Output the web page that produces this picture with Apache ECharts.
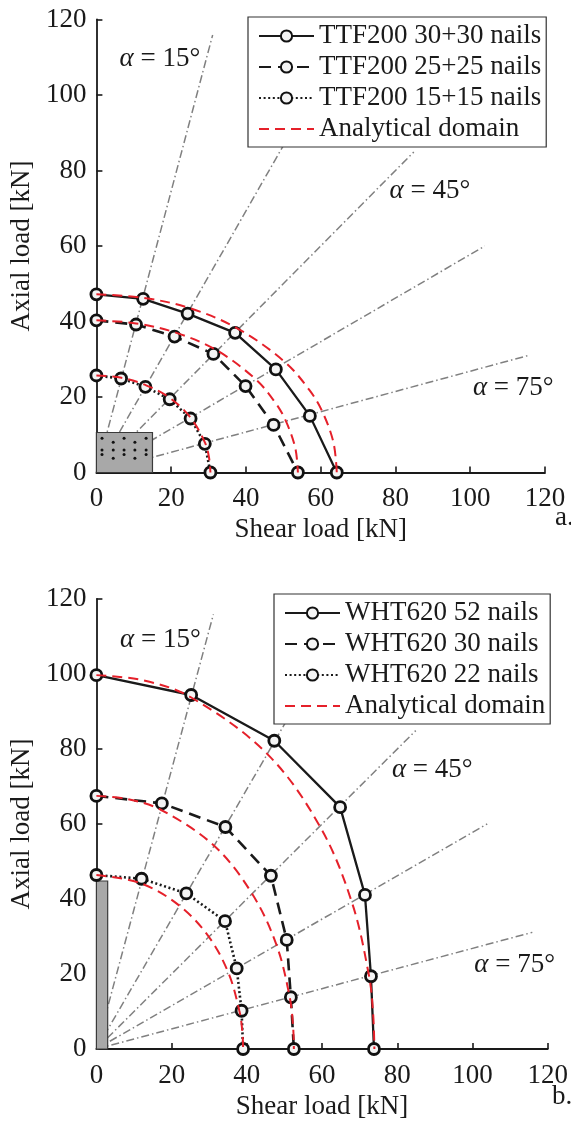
<!DOCTYPE html>
<html>
<head>
<meta charset="utf-8">
<script src="https://cdn.jsdelivr.net/npm/echarts@6/dist/echarts.min.js"></script>
<style>
  html, body { margin: 0; padding: 0; background: #fff; }
  #chart { width: 571px; height: 1121px; }
</style>
</head>
<body>
<div id="chart"></div>
<script>
// ---- panel a: TTF200 (shear load, axial load) in kN
const ttf30 = [[0, 47.2], [12.5, 46.0], [24.4, 42.1], [37.1, 37.0], [48.0, 27.3], [57.1, 15.0], [64.3, 0]];
const ttf25 = [[0, 40.3], [10.6, 39.2], [20.9, 36.0], [31.3, 31.4], [39.9, 22.9], [47.4, 12.6], [53.9, 0]];
const ttf15 = [[0, 25.7], [6.6, 24.9], [13.1, 22.7], [19.6, 19.4], [25.2, 14.3], [29.0, 7.6], [30.5, 0]];
const domainA30 = [[0, 47.2], [12.4, 46.3], [25.1, 43.5], [38.0, 38.0], [50.5, 29.2], [57.0, 21.8], [60.4, 16.2], [63.4, 8.0], [64.3, 0]];
const domainA25 = [[0, 40.3], [10.6, 39.5], [21.4, 37.0], [32.3, 32.3], [42.7, 24.6], [48.0, 18.3], [50.7, 13.6], [53.2, 6.5], [53.9, 0]];
const domainA15 = [[0, 25.7], [6.7, 25.1], [13.3, 23.1], [19.7, 19.7], [25.2, 14.5], [29.1, 7.8], [30.1, 4.1], [30.5, 0]];

// ---- panel b: WHT620
const wht52 = [[0, 99.7], [25.2, 94.4], [47.3, 82.2], [64.8, 64.5], [71.4, 41.1], [73.0, 19.4], [73.8, 0]];
const wht30 = [[0, 67.5], [17.4, 65.5], [34.3, 59.2], [46.4, 46.2], [50.6, 29.1], [51.7, 13.8], [52.5, 0]];
const wht22 = [[0, 46.4], [12.0, 45.4], [23.9, 41.5], [34.2, 34.1], [37.3, 21.5], [38.6, 10.2], [39.0, 0]];
const domainB52 = [[0, 99.7], [12.5, 98.3], [25.1, 93.8], [45.4, 78.7], [59.4, 59.4], [67.9, 39.2], [72.5, 19.4], [73.6, 9.0], [73.9, 0]];
const domainB30 = [[0, 67.5], [8.5, 66.6], [17.1, 63.8], [31.3, 54.2], [41.4, 41.4], [47.9, 27.7], [51.4, 13.8], [52.3, 5.9], [52.5, 0]];
const domainB22 = [[0, 46.4], [11.8, 44.2], [22.1, 38.2], [29.9, 29.9], [35.1, 20.3], [38.0, 10.2], [38.8, 4.7], [39.0, 0]];

// load direction rays (alpha = 15..75 deg), end points
const rayEnds = [[31.1, 115.9], [60.0, 103.9], [84.9, 84.9], [103.9, 60.0], [115.9, 31.1]];
// angle notes [x, y, degrees]
const angleNotesA = [[17.0, 109.5, 15], [89.2, 74.6, 45], [111.5, 22.5, 75]];
const angleNotesB = [[17.0, 109.1, 15], [89.3, 74.3, 45], [111.2, 22.4, 75]];

// specimen plates [x0, y0, x1, y1] and nail dots
const plateA = [[0, 0, 15, 10.6]];
const plateB = [[0, 0, 3, 44.8]];
const nailDotsA = [[1.5, 9.05], [7.4, 9.05], [13.3, 9.05], [4.5, 8.0], [10.3, 8.0],
  [1.5, 5.96], [4.5, 5.96], [7.4, 5.96], [10.3, 5.96], [13.3, 5.96],
  [1.5, 4.8], [7.4, 4.8], [13.3, 4.8], [4.5, 3.75], [10.3, 3.75]];

const ticks = [0, 20, 40, 60, 80, 100, 120];

const FONT = 'Liberation Serif';
const INK = '#1a1a1a';
const chart = echarts.init(document.getElementById('chart'));

function xAxisFor(gi) {
  return {
    type: 'value', gridIndex: gi, min: ticks[0], max: ticks[ticks.length - 1], interval: 20,
    name: 'Shear load [kN]', nameLocation: 'middle', nameGap: 44,
    nameTextStyle: { fontFamily: FONT, fontSize: 27, color: INK },
    axisLine: { show: true, onZero: false, lineStyle: { color: INK, width: 1.8 } },
    axisTick: { show: true, inside: true, length: 6, lineStyle: { color: INK, width: 1.6 } },
    axisLabel: { fontFamily: FONT, fontSize: 27, color: INK, margin: 13 },
    splitLine: { show: false }
  };
}
function yAxisFor(gi, gap) {
  return {
    type: 'value', gridIndex: gi, min: ticks[0], max: ticks[ticks.length - 1], interval: 20,
    name: 'Axial load [kN]', nameLocation: 'middle', nameGap: gap, nameRotate: 90,
    nameTextStyle: { fontFamily: FONT, fontSize: 27, color: INK },
    axisLine: { show: true, onZero: false, lineStyle: { color: INK, width: 1.8 } },
    axisTick: { show: true, inside: true, length: 6, lineStyle: { color: INK, width: 1.6 } },
    axisLabel: { fontFamily: FONT, fontSize: 27, color: INK, margin: 10 },
    splitLine: { show: false }
  };
}

const dashOf = { solid: 'solid', dashed: [12, 7], dotted: [2, 2.6] };
function testSeries(name, data, style, gi) {
  return {
    name, type: 'line', xAxisIndex: gi, yAxisIndex: gi, data,
    symbol: 'circle', symbolSize: 11, showSymbol: true, z: 4,
    lineStyle: { color: '#1a1a1a', width: style === 'solid' ? 2.3 : 2.6, type: dashOf[style] },
    itemStyle: { color: '#f4f4f4', borderColor: '#111', borderWidth: 2.8 },
    emphasis: { disabled: true }
  };
}
function domainSeries(data, gi) {
  return {
    name: 'Analytical domain', type: 'line', xAxisIndex: gi, yAxisIndex: gi, data,
    symbol: 'none', smooth: 0.35, z: 5,
    lineStyle: { color: '#e5202a', width: 2, type: [10, 6] },
    itemStyle: { color: 'rgba(0,0,0,0)', borderColor: 'rgba(0,0,0,0)' },
    emphasis: { disabled: true }
  };
}
function raySeries(gi) {
  const data = [];
  rayEnds.forEach(e => { data.push([0, 0], e, '-'); });
  return {
    type: 'line', xAxisIndex: gi, yAxisIndex: gi, data, symbol: 'none', z: 1,
    lineStyle: { color: '#808080', width: 1.5, type: [8, 3, 1.5, 3] },
    emphasis: { disabled: true }, silent: true
  };
}
function plateSeries(data, gi) {
  return {
    type: 'custom', xAxisIndex: gi, yAxisIndex: gi, data, z: 2, silent: true,
    encode: { x: [0, 2], y: [1, 3] },
    renderItem: (params, api) => {
      const p0 = api.coord([api.value(0), api.value(1)]);
      const p1 = api.coord([api.value(2), api.value(3)]);
      return {
        type: 'rect',
        shape: { x: p0[0], y: p1[1], width: p1[0] - p0[0], height: p0[1] - p1[1] },
        style: { fill: '#a8a8a8', stroke: '#3a3a3a', lineWidth: 1.2 }
      };
    }
  };
}
function noteSeries(notes, gi) {
  return {
    type: 'custom', xAxisIndex: gi, yAxisIndex: gi, z: 6, silent: true,
    data: notes, encode: { x: 0, y: 1 },
    renderItem: (params, api) => {
      const p = api.coord([api.value(0), api.value(1)]);
      return {
        type: 'text', x: p[0], y: p[1],
        style: {
          text: '{i|α} = ' + api.value(2) + '°',
          fontFamily: FONT, fontSize: 27, fill: INK,
          align: 'center', verticalAlign: 'middle',
          rich: { i: { fontFamily: FONT, fontStyle: 'italic', fontSize: 27, fill: INK } }
        }
      };
    }
  };
}
function legendFor(names, left, top) {
  return {
    orient: 'vertical', left, top, selectedMode: false,
    data: names.map(n => n === 'Analytical domain'
      ? { name: n, itemStyle: { opacity: 0 } }
      : { name: n }),
    itemWidth: 55, itemHeight: 14, itemGap: 3, padding: [5, 5, 4, 10],
    borderColor: '#333', borderWidth: 1.2, backgroundColor: '#fff', z: 10,
    textStyle: { fontFamily: FONT, fontSize: 27, color: INK, lineHeight: 28 }
  };
}

const namesA = ['TTF200 30+30 nails', 'TTF200 25+25 nails', 'TTF200 15+15 nails', 'Analytical domain'];
const namesB = ['WHT620 52 nails', 'WHT620 30 nails', 'WHT620 22 nails', 'Analytical domain'];

chart.setOption({
  animation: false,
  backgroundColor: '#fff',
  grid: [
    { left: 91.7, top: 19.5, width: 453.3, height: 453, containLabel: false },
    { left: 96.3, top: 599, width: 453, height: 453, containLabel: false }
  ],
  xAxis: [xAxisFor(0), xAxisFor(1)],
  yAxis: [yAxisFor(0, 51), yAxisFor(1, 53)],
  legend: [legendFor(namesA, 248, 17), legendFor(namesB, 274, 594)],
  graphic: [
    { type: 'text', left: 555, top: 504, style: { text: 'a.', font: '27px "Liberation Serif"', fill: INK } },
    { type: 'text', left: 552, top: 1083, style: { text: 'b.', font: '27px "Liberation Serif"', fill: INK } }
  ],
  series: [
    raySeries(0),
    plateSeries(plateA, 0),
    { type: 'scatter', xAxisIndex: 0, yAxisIndex: 0, data: nailDotsA, symbolSize: 3, z: 3, silent: true,
      itemStyle: { color: '#111', opacity: 1 } },
    testSeries(namesA[0], ttf30, 'solid', 0),
    testSeries(namesA[1], ttf25, 'dashed', 0),
    testSeries(namesA[2], ttf15, 'dotted', 0),
    domainSeries(domainA30, 0),
    domainSeries(domainA25, 0),
    domainSeries(domainA15, 0),
    noteSeries(angleNotesA, 0),

    raySeries(1),
    plateSeries(plateB, 1),
    testSeries(namesB[0], wht52, 'solid', 1),
    testSeries(namesB[1], wht30, 'dashed', 1),
    testSeries(namesB[2], wht22, 'dotted', 1),
    domainSeries(domainB52, 1),
    domainSeries(domainB30, 1),
    domainSeries(domainB22, 1),
    noteSeries(angleNotesB, 1)
  ]
});
</script>
</body>
</html>
